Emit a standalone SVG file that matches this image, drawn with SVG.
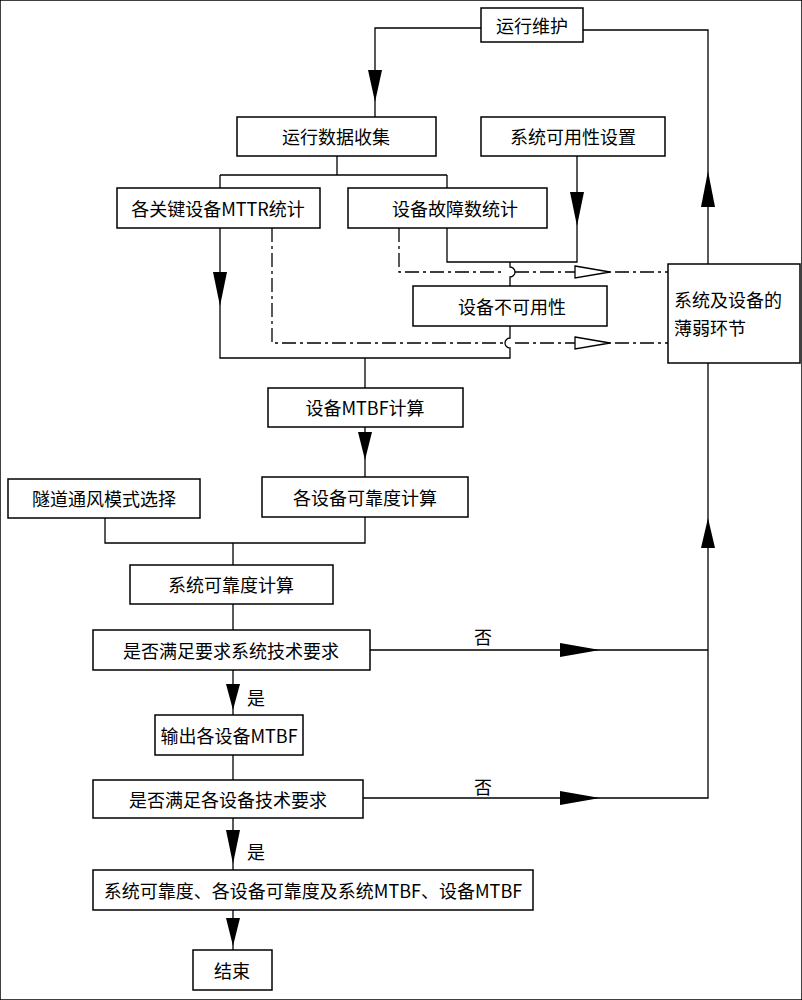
<svg xmlns="http://www.w3.org/2000/svg" width="802" height="1000" viewBox="0 0 802 1000">
<style>
rect{fill:#fff;stroke:#000;stroke-width:1.5}
text{font-family:"Noto Sans CJK SC","Liberation Sans",sans-serif;font-size:18px;text-anchor:middle;dominant-baseline:central}
.s{text-anchor:start}
.l{fill:none;stroke:#000;stroke-width:1.3}
.d{fill:none;stroke:#000;stroke-width:1.3;stroke-dasharray:14 4 3 4}
.a{fill:#000}
.o{fill:#fff;stroke:#000;stroke-width:1.3}
</style>
<rect width="802" height="1000" fill="#fff" stroke="none"/>
<g id="connectors">
<path class="l" d="M481 28H375V117"/><path class="a" d="M368 70h14l-7 32z"/>
<path class="l" d="M708 264V30H583"/><path class="a" d="M701 207h14l-7-36z"/>
<path class="l" d="M337 156V175M220 175H447M220 175V188M447 175V188"/>
<path class="l" d="M577 156V262H447V228"/><path class="a" d="M570 192h14l-7 34z"/>
<path class="l" d="M510 262V267a5 5 0 0 1 0 10V286"/>
<path class="d" d="M399 228V272H505M515 272H668"/><path class="o" d="M575 266l35 6l-35 6z"/>
<path class="l" d="M220 228V358H510V348a5 5 0 0 1 0-10V326"/><path class="a" d="M213 272h14l-7 34z"/>
<path class="d" d="M272 228V343H505M515 343H668"/><path class="o" d="M575 337l35 6l-35 6z"/>
<path class="l" d="M365 358V388"/>
<path class="l" d="M365 427V477"/><path class="a" d="M358 432h14l-7 28z"/>
<path class="l" d="M105 518V543H365V517M233 543V565M233 604V630"/>
<path class="l" d="M370 650H708M363 798H708V363"/>
<path class="a" d="M560 643l40 7l-40 7z"/><path class="a" d="M560 791l40 7l-40 7z"/>
<path class="a" d="M701 548h14l-7-30z"/>
<path class="l" d="M233 670V715"/><path class="a" d="M226 684h14l-7 26z"/>
<path class="l" d="M233 755V780"/>
<path class="l" d="M233 818V870"/><path class="a" d="M226 830h14l-7 34z"/>
<path class="l" d="M233 910V950"/><path class="a" d="M226 918h14l-7 28z"/>
</g>
<text x="483" y="636">否</text><text x="483" y="786">否</text>
<text x="256" y="697">是</text><text x="256" y="851">是</text>
<g id="n1"><rect x="481" y="8" width="102" height="34"/><text x="532" y="25">运行维护</text></g>
<g id="n2"><rect x="237" y="117" width="199" height="39"/><text x="336" y="136">运行数据收集</text></g>
<g id="n3"><rect x="481" y="117" width="184" height="39"/><text x="573" y="136">系统可用性设置</text></g>
<g id="n4"><rect x="117" y="188" width="203" height="40"/><text x="218" y="208">各关键设备MTTR统计</text></g>
<g id="n5"><rect x="348" y="188" width="199" height="40"/><text x="455" y="208">设备故障数统计</text></g>
<g id="n6"><rect x="413" y="286" width="194" height="40"/><text x="512" y="306">设备不可用性</text></g>
<g id="n7"><rect x="668" y="264" width="132" height="99"/><text class="s" x="674" y="299">系统及设备的</text><text class="s" x="674" y="327">薄弱环节</text></g>
<g id="n8"><rect x="268" y="388" width="195" height="39"/><text x="365" y="407">设备MTBF计算</text></g>
<g id="n9"><rect x="8" y="479" width="192" height="39"/><text x="104" y="498">隧道通风模式选择</text></g>
<g id="n10"><rect x="262" y="477" width="206" height="40"/><text x="365" y="497">各设备可靠度计算</text></g>
<g id="n11"><rect x="130" y="565" width="203" height="39"/><text x="231" y="584">系统可靠度计算</text></g>
<g id="n12"><rect x="93" y="630" width="277" height="40"/><text x="231" y="650">是否满足要求系统技术要求</text></g>
<g id="n13"><rect x="155" y="715" width="148" height="40"/><text x="229" y="735">输出各设备MTBF</text></g>
<g id="n14"><rect x="93" y="780" width="270" height="38"/><text x="228" y="799">是否满足各设备技术要求</text></g>
<g id="n15"><rect x="93" y="870" width="440" height="40"/><text x="313" y="890">系统可靠度、各设备可靠度及系统MTBF、设备MTBF</text></g>
<g id="n16"><rect x="193" y="950" width="79" height="40"/><text x="232" y="970">结束</text></g>
</svg>
